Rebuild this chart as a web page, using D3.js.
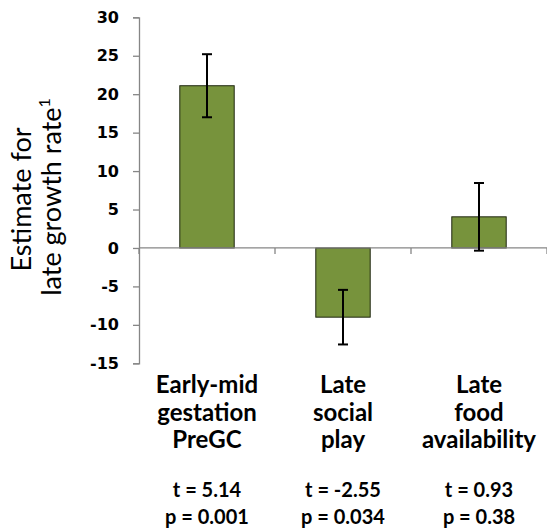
<!DOCTYPE html>
<html>
<head>
<meta charset="utf-8">
<script src="https://cdn.jsdelivr.net/npm/d3@7"></script>
<style>
  html, body { margin: 0; padding: 0; background: #fff; }
  svg { display: block; }
</style>
</head>
<body>
<svg id="chart" width="547" height="532"></svg>
<script>
// Model estimates for late growth rate, with standard errors
const categories = [
  ["Early-mid", "gestation", "PreGC"],
  ["Late", "social", "play"],
  ["Late", "food", "availability"]
];
const estimates = [21.1, -9.0, 4.05];
const stdErrors = [4.1, 3.55, 4.4];
const tStats = ["t = 5.14", "t = -2.55", "t = 0.93"];
const pValues = ["p = 0.001", "p = 0.034", "p = 0.38"];
const yTicks = [-15, -10, -5, 0, 5, 10, 15, 20, 25, 30];

const svg = d3.select("#chart");
const labelFont = "Lato, 'Open Sans', sans-serif";

const x = d3.scaleBand()
  .domain(d3.range(categories.length))
  .range([139, 547])
  .paddingInner(0)
  .paddingOuter(0);

const y = d3.scaleLinear().domain([-15, 30]).range([363.3, 17.3]);

const barWidth = x.bandwidth() * 0.4;

// y axis (plain hyphen for negatives)
const yAxis = svg.append("g")
  .attr("transform", `translate(${x.range()[0]},0)`)
  .call(d3.axisLeft(y).tickValues(yTicks).tickSize(6).tickPadding(14).tickFormat(d => String(d)));
yAxis.select(".domain").attr("stroke", "#868686").attr("stroke-width", 1.3);
yAxis.selectAll(".tick line").attr("stroke", "#868686").attr("stroke-width", 1.3);
yAxis.selectAll(".tick text")
  .attr("fill", "#000")
  .style("font-family", "'DejaVu Sans', Verdana, sans-serif")
  .style("font-weight", "bold")
  .style("font-size", "16px");

// bars
svg.append("g").selectAll("rect")
  .data(estimates)
  .join("rect")
  .attr("x", (d, i) => x(i) + (x.bandwidth() - barWidth) / 2)
  .attr("y", d => y(Math.max(0, d)))
  .attr("width", barWidth)
  .attr("height", d => Math.abs(y(d) - y(0)))
  .attr("fill", "#77933C")
  .attr("stroke", "#1f2610")
  .attr("stroke-width", 1);

// x axis along zero, with category boundary ticks
const xAxisG = svg.append("g").attr("transform", `translate(0,${y(0)})`);
xAxisG.append("line")
  .attr("x1", x.range()[0]).attr("x2", x.range()[1])
  .attr("stroke", "#868686").attr("stroke-width", 1.3);
xAxisG.selectAll(".bt")
  .data(d3.range(categories.length + 1))
  .join("line")
  .attr("class", "bt")
  .attr("x1", i => x.range()[0] + i * x.step())
  .attr("x2", i => x.range()[0] + i * x.step())
  .attr("y1", 0).attr("y2", 6)
  .attr("stroke", "#868686").attr("stroke-width", 1.3);

// error bars
const err = svg.append("g").attr("stroke", "#000").attr("stroke-width", 2);
estimates.forEach((d, i) => {
  const cx = x(i) + x.bandwidth() / 2;
  const hi = y(d + stdErrors[i]);
  const lo = y(d - stdErrors[i]);
  err.append("line").attr("x1", cx).attr("x2", cx).attr("y1", hi).attr("y2", lo);
  err.append("line").attr("x1", cx - 5).attr("x2", cx + 5).attr("y1", hi).attr("y2", hi);
  err.append("line").attr("x1", cx - 5).attr("x2", cx + 5).attr("y1", lo).attr("y2", lo);
});

// category labels
const catG = svg.append("g")
  .style("font-family", labelFont)
  .style("font-weight", "bold")
  .style("font-size", "24px")
  .attr("text-anchor", "middle");
categories.forEach((lines, i) => {
  const cx = x(i) + x.bandwidth() / 2;
  lines.forEach((t, j) => {
    catG.append("text").attr("x", cx).attr("y", 393 + j * 27.5).text(t);
  });
});

// test statistics
const statG = svg.append("g")
  .style("font-family", labelFont)
  .style("font-weight", "bold")
  .style("font-size", "20px")
  .attr("text-anchor", "middle");
tStats.forEach((t, i) => {
  const cx = x(i) + x.bandwidth() / 2;
  statG.append("text").attr("x", cx).attr("y", 496.5).text(t);
  statG.append("text").attr("x", cx).attr("y", 523.5).text(pValues[i]);
});

// y axis title
const title = svg.append("text")
  .attr("transform", "rotate(-90)")
  .attr("text-anchor", "middle")
  .style("font-family", labelFont)
  .style("font-size", "27px")
  .attr("fill", "#000");
title.append("tspan").attr("x", -199.5).attr("y", 31).text("Estimate for");
const l2 = title.append("tspan").attr("x", -197).attr("y", 61);
l2.append("tspan").text("late growth rate");
l2.append("tspan").attr("dy", -11).style("font-size", "16px").text("1");
</script>
</body>
</html>
